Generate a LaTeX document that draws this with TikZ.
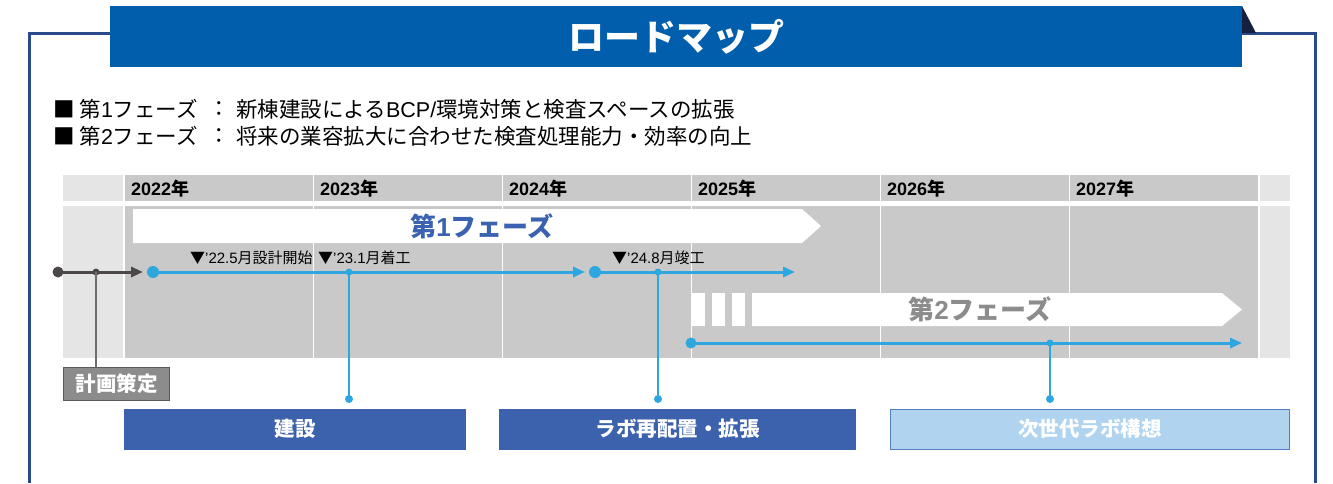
\documentclass[tikz,border=0pt]{standalone}
\usepackage{fontspec}
\setmainfont{Noto Sans CJK JP}
\newfontfamily\lat{Liberation Sans}
\usetikzlibrary{arrows.meta}
\definecolor{titleblue}{HTML}{005EAC}
\definecolor{frameblue}{HTML}{2B4A8C}
\definecolor{navy}{HTML}{16213F}
\definecolor{tlgrey}{HTML}{C8C9C8}
\definecolor{lightgrey}{HTML}{E5E5E5}
\definecolor{phaseblue}{HTML}{3A62B0}
\definecolor{phasegrey}{HTML}{8C8C8C}
\definecolor{lineblue}{HTML}{2EA7E0}
\definecolor{dgrey}{HTML}{4D4848}
\definecolor{kgrey}{HTML}{8C8C8C}
\definecolor{kborder}{HTML}{5A5A5A}
\definecolor{boxblue}{HTML}{3D62AD}
\definecolor{lightbox}{HTML}{B0D4F0}
\definecolor{lightboxborder}{HTML}{5580C4}
\tikzset{
  bigdot/.style={circle, fill=#1, minimum size=12pt, inner sep=0pt},
  middot/.style={circle, fill=#1, minimum size=8pt, inner sep=0pt},
  smalldot/.style={circle, fill=#1, minimum size=7pt, inner sep=0pt},
  tline/.style={line width=3pt, -{Triangle[length=12pt,width=10pt]}},
  drop/.style={lineblue, line width=1.5pt},
  bullettext/.style={font=\fontsize{21.5}{24}\selectfont, text=black},
  yeartext/.style={font=\fontsize{18}{20}\selectfont\bfseries, anchor=west},
  msltext/.style={font=\fontsize{15}{18}\selectfont, anchor=west},
  phasetext/.style={font=\fontsize{26}{28}\selectfont\bfseries},
  labelbox/.style={minimum height=41pt, inner sep=0pt, text=white, font=\fontsize{20.5}{22}\selectfont\bfseries},
}
\begin{document}
\begin{tikzpicture}[x=1pt,y=-1pt, every node/.style={inner sep=0pt}]
\useasboundingbox (0,0) rectangle (1333,483);
% frame
\draw[frameblue, line width=3pt] (29.5,483) -- (29.5,33.5) -- (112,33.5);
\draw[frameblue, line width=3pt] (1240,33.5) -- (1315.5,33.5) -- (1315.5,483);
\fill[navy] (1242,6) -- (1256,33) -- (1242,33) -- cycle;
\node[fill=titleblue, minimum width=1132pt, minimum height=61pt, text=white,
      font=\fontsize{36}{38}\selectfont\bfseries] (title) at (676,36.5) {ロードマップ};
% bullets
\node[bullettext, anchor=west] (b1) at (53,109) {■ 第{\lat 1}フェーズ};
\node[bullettext] (c1) at (219,109) {：};
\node[bullettext, anchor=west] (t1) at (236,109) {新棟建設による{\lat BCP/}環境対策と検査スペースの拡張};
\node[bullettext, anchor=west] (b2) at (53,136) {■ 第{\lat 2}フェーズ};
\node[bullettext] (c2) at (219,136) {：};
\node[bullettext, anchor=west] (t2) at (236,136) {将来の業容拡大に合わせた検査処理能力・効率の向上};
% timeline grid
\fill[lightgrey] (63,175) rectangle (123,201);
\fill[lightgrey] (63,206) rectangle (123,358);
\fill[lightgrey] (1260,175) rectangle (1290,201);
\fill[lightgrey] (1260,206) rectangle (1290,358);
\foreach \yr [count=\i from 0] in {2022,2023,2024,2025,2026,2027} {
  \fill[tlgrey] (125+189*\i,175) rectangle (313+189*\i,201);
  \fill[tlgrey] (125+189*\i,206) rectangle (313+189*\i,358);
  \node[yeartext] (y\yr) at (131+189*\i,189) {{\lat\bfseries\yr}年};
}
% phase 1 arrow
\fill[white] (133,209) -- (802,209) -- (821,226) -- (802,243) -- (133,243) -- cycle;
\node[phasetext, text=phaseblue] (p1) at (482,226) {第{\lat\bfseries 1}フェーズ};
% phase 2 arrow
\fill[white] (692,293) rectangle (705,326);
\fill[white] (712,293) rectangle (725,326);
\fill[white] (732,293) rectangle (745,326);
\fill[white] (752,293) -- (1222,293) -- (1242,309.5) -- (1222,326) -- (752,326) -- cycle;
\node[phasetext, text=phasegrey] (p2) at (980,309) {第{\lat\bfseries 2}フェーズ};
% milestone labels
\node[msltext] (m1) at (190,257.5) {▼{\lat ’22.5}月設計開始};
\node[msltext] (m2) at (318,257.5) {▼{\lat ’23.1}月着工};
\node[msltext] (m3) at (612,257.5) {▼{\lat ’24.8}月竣工};
% planning line
\node[middot=dgrey, minimum size=11pt] (g0) at (58,272) {};
\coordinate (g2) at (143,272);
\draw[dgrey, tline] (g0.center) -- (g2);
\node[smalldot=dgrey] (g1) at (96,272) {};
\node[fill=kgrey, draw=kborder, line width=1pt, minimum width=106pt, minimum height=33pt,
      text=white, font=\fontsize{20.5}{22}\selectfont\bfseries] (plan) at (116.5,384) {計画策定};
\draw[dgrey!80, line width=1.5pt] (g1.center) -- (g1 |- plan.north);
% blue line 1
\node[bigdot=lineblue] (a0) at (153,272) {};
\coordinate (a9) at (585,272);
\draw[lineblue, tline] (a0.center) -- (a9);
\node[smalldot=lineblue] (a1) at (349,272) {};
\node[middot=lineblue] (a2) at (349,399) {};
\draw[drop] (a1.center) -- (a2.center);
% blue line 2
\node[bigdot=lineblue] (b0) at (595,272) {};
\coordinate (b9) at (795,272);
\draw[lineblue, tline] (b0.center) -- (b9);
\node[smalldot=lineblue] (bb1) at (658,272) {};
\node[middot=lineblue] (bb2) at (658,399) {};
\draw[drop] (bb1.center) -- (bb2.center);
% blue line 3
\node[middot=lineblue, minimum size=11pt] (d0) at (691,343) {};
\coordinate (d9) at (1242,343);
\draw[lineblue, tline] (d0.center) -- (d9);
\node[smalldot=lineblue] (d1) at (1050,343) {};
\node[middot=lineblue] (d2) at (1050,399) {};
\draw[drop] (d1.center) -- (d2.center);
% bottom boxes
\node[labelbox, fill=boxblue, minimum width=342pt] (k1) at (295,429) {建設};
\node[labelbox, fill=boxblue, minimum width=357pt] (k2) at (677.5,429) {ラボ再配置・拡張};
\node[labelbox, fill=lightbox, draw=lightboxborder, line width=1pt, minimum width=399pt, minimum height=40pt] (k3) at (1090,429) {次世代ラボ構想};
\end{tikzpicture}
\end{document}
